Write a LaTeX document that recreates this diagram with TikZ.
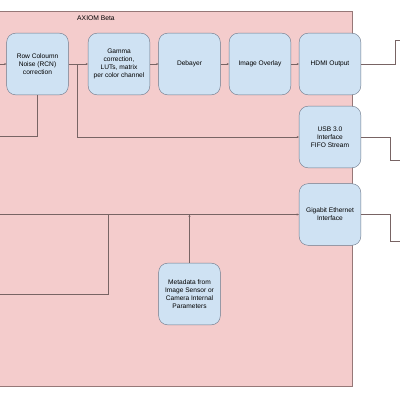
\documentclass[tikz,border=0pt]{standalone}
\usepackage{fontspec}
\setmainfont{Liberation Sans}
\usetikzlibrary{arrows.meta}

\definecolor{bloque}{RGB}{207,226,243}
\definecolor{bordecaja}{RGB}{110,122,140}
\definecolor{rosa}{RGB}{244,204,204}
\definecolor{borde}{RGB}{150,120,120}
\definecolor{linea}{RGB}{120,100,100}

\tikzset{
  caja/.style={draw=bordecaja, fill=bloque, rounded corners=2.2mm,
    minimum width=15.4mm, minimum height=15.4mm, align=center,
    font=\fontsize{4.7}{5.7}\selectfont, line width=0.3pt},
  conector/.style={draw=linea, line width=0.35pt},
  flecha/.style={conector, -{Stealth[length=1.6pt,width=1.4pt]}}
}

\begin{document}
\begin{tikzpicture}[x=0.25mm,y=-0.25mm]
  \useasboundingbox (0,0) rectangle (400,400);

  % --- Fondo ---
  \fill[white] (0,0) rectangle (400,400);
  \draw[fill=rosa, draw=borde, line width=0.35pt] (-5,11) rectangle (352,386);
  \node[font=\fontsize{4.8}{5.8}\selectfont] (titulo) at (96,18) {AXIOM Beta};

  % --- Bloques ---
  \node[caja] (rcn) at (37.5,64) {Row Coloumn\\Noise (RCN)\\correction};
  \node[caja] (gamma) at (119,64) {Gamma\\correction,\\LUTs, matrix\\per color channel};
  \node[caja] (debayer) at (189.5,64) {Debayer};
  \node[caja] (overlay) at (260,64) {Image Overlay};
  \node[caja] (hdmi) at (330,64) {HDMI Output};
  \node[caja] (usb) at (330,137) {USB 3.0\\Interface\\FIFO Stream};
  \node[caja] (eth) at (330,214.5) {Gigabit Ethernet\\Interface};
  \node[caja] (meta) at (189.5,294) {Metadata from\\Image Sensor or\\Camera Internal\\Parameters};

  % --- Extremos libres ---
  \coordinate (entrada) at (0,64);
  \coordinate (retorno) at (0,136);
  \coordinate (rama) at (77,64);
  \coordinate (hdmiA) at (395,40);
  \coordinate (hdmiB) at (400,40);
  \coordinate (usbA) at (390,160);
  \coordinate (usbB) at (400,160);
  \coordinate (ethA) at (390,241);
  \coordinate (ethB) at (400,241);
  \coordinate (redIn) at (0,214.5);
  \coordinate (redB) at (0,294);
  \coordinate (redC) at (108,214.5);
  \coordinate (metaA) at (189.5,214.5);

  % --- Conexiones ---
  \draw[flecha] (entrada) -- (rcn);
  \draw[conector] (rcn.south) |- (retorno);
  \foreach \a/\b in {rcn/gamma, gamma/debayer, debayer/overlay, overlay/hdmi}
  {
    \draw[flecha] (\a) -- (\b);
  }
  \draw[flecha] (rama) |- (usb.west);
  \draw[conector] (hdmi.east) -| (hdmiA) -- (hdmiB);
  \draw[conector] (usb.east) -| (usbA) -- (usbB);
  \draw[conector] (eth.east) -| (ethA) -- (ethB);
  \draw[flecha] (redIn) -- (eth.west);
  \draw[conector] (redB) -| (redC);
  \draw[flecha] (meta.north) -- (metaA);
\end{tikzpicture}
\end{document}
